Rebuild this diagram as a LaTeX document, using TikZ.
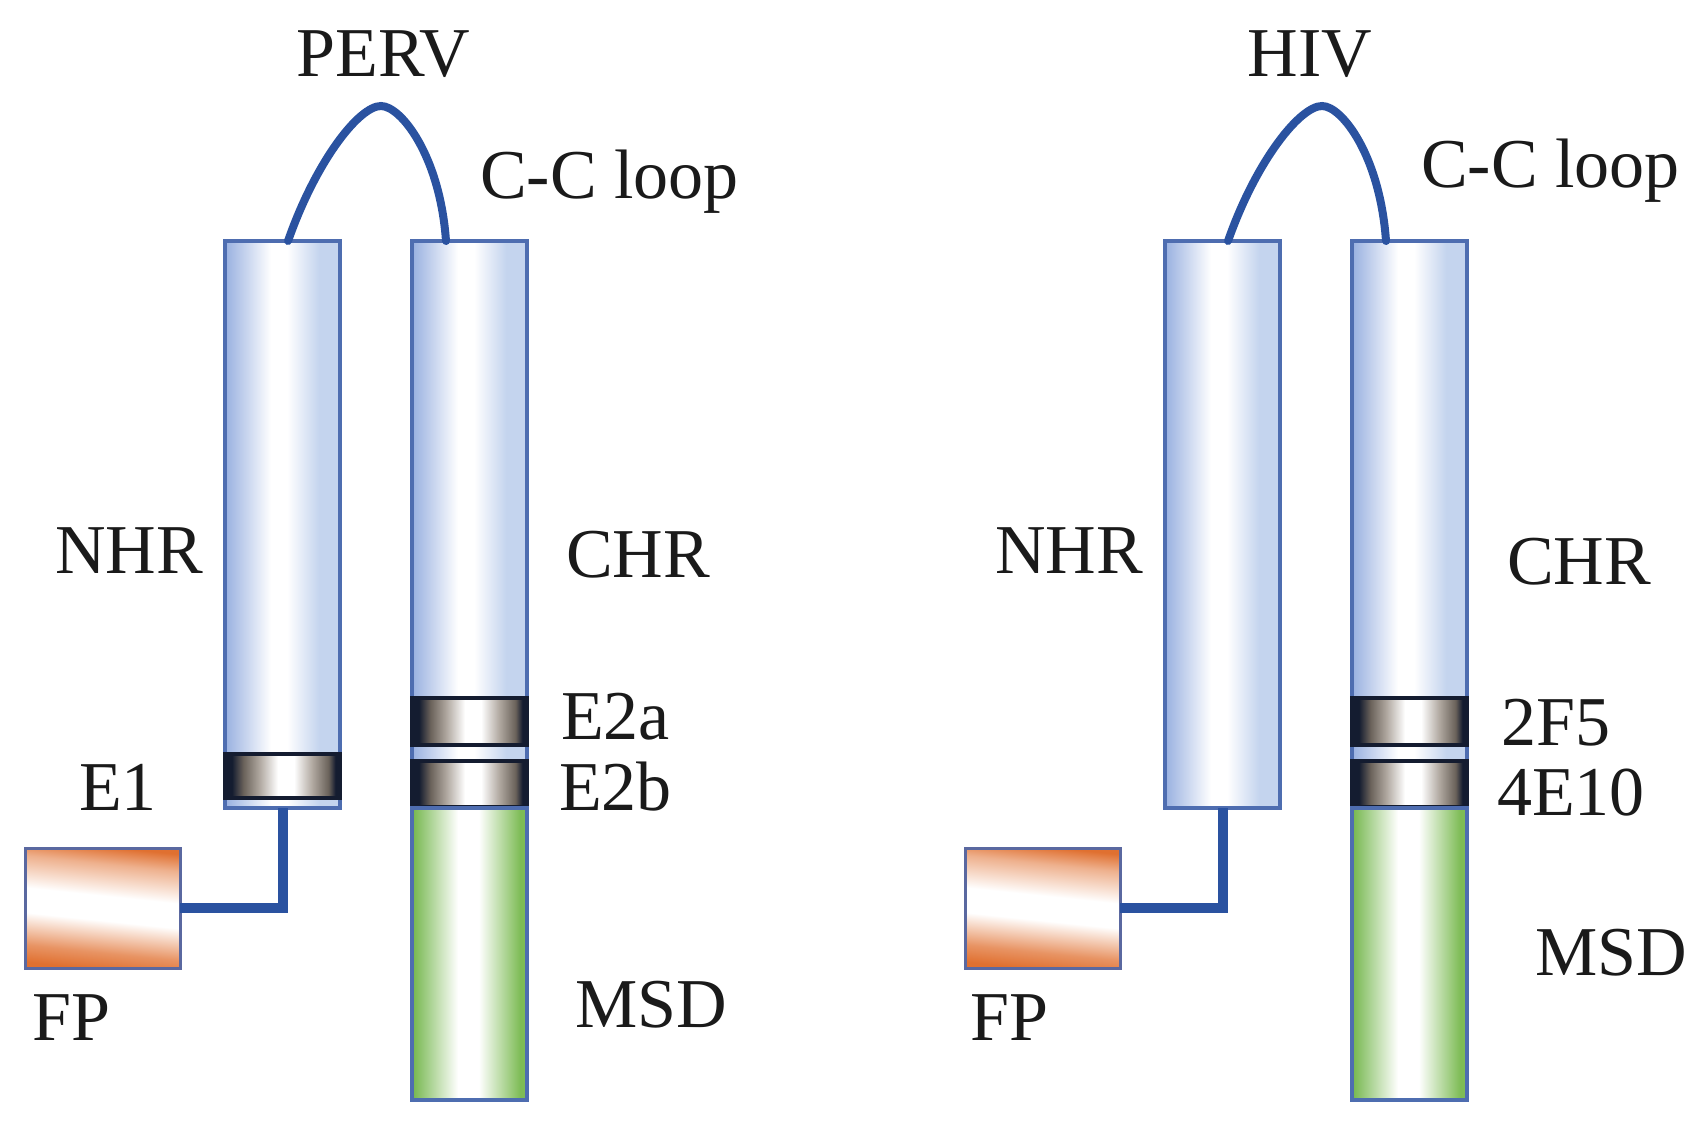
\documentclass[tikz,border=0pt]{standalone}
\usepackage{fontspec}
\setmainfont{Liberation Serif}
\usetikzlibrary{calc}
\definecolor{tubeedge}{HTML}{4E6DB0}
\definecolor{tubeL}{HTML}{98B0E0}
\definecolor{tubeR}{HTML}{C4D4EE}
\definecolor{greenL}{HTML}{74B64C}
\definecolor{greenR}{HTML}{7EBC56}
\definecolor{bandD}{HTML}{141C30}
\definecolor{bandG}{HTML}{6A625A}
\definecolor{bandM}{HTML}{B0A8A0}
\definecolor{fpor}{HTML}{E07030}
\definecolor{fpedge}{HTML}{5A68A0}
\definecolor{linkblue}{HTML}{2A52A0}
\definecolor{txt}{HTML}{1A1A1A}
\pgfdeclarehorizontalshading{tubeshade}{100bp}{color(0bp)=(tubeL); color(25bp)=(tubeL); color(45bp)=(white); color(52bp)=(white); color(66bp)=(tubeR); color(75bp)=(tubeR); color(100bp)=(tubeR)}
\pgfdeclarehorizontalshading{greenshade}{100bp}{color(0bp)=(greenL); color(25bp)=(greenL); color(45bp)=(white); color(54bp)=(white); color(72bp)=(greenR); color(75bp)=(greenR); color(100bp)=(greenR)}
\pgfdeclarehorizontalshading{bandshade}{100bp}{color(0bp)=(bandD); color(25bp)=(bandD); color(28bp)=(bandD); color(33bp)=(bandG); color(40bp)=(bandM); color(48bp)=(white); color(55bp)=(white); color(63bp)=(bandM); color(70bp)=(bandG); color(73bp)=(bandD); color(75bp)=(bandD); color(100bp)=(bandD)}
\pgfdeclareverticalshading{fpshade}{100bp}{color(0bp)=(fpor); color(25bp)=(fpor); color(32bp)=(fpor!75); color(45bp)=(white); color(55bp)=(white); color(68bp)=(fpor!55); color(75bp)=(fpor); color(100bp)=(fpor)}
\begin{document}
\begin{tikzpicture}[x=1pt,y=-1pt,
  tube/.style={draw=tubeedge, line width=3.5pt, shading=tubeshade, anchor=north west, inner sep=0pt, outer sep=0pt, minimum width=115pt},
  msd/.style={draw=tubeedge, line width=3.5pt, shading=greenshade, anchor=north west, inner sep=0pt, outer sep=0pt, minimum width=115pt},
  band/.style={draw=bandD, line width=3.5pt, shading=bandshade, anchor=north west, inner sep=0pt, outer sep=0pt, minimum width=115pt},
  fpbox/.style={draw=fpedge, line width=3pt, shading=fpshade, shading angle=-6, anchor=north west, inner sep=0pt, outer sep=0pt, minimum width=155pt, minimum height=120pt},
  link/.style={draw=linkblue, line width=10pt, line join=miter},
  loopline/.style={draw=linkblue, line width=8pt, line cap=round},
  lab/.style={font=\fontsize{70}{82}\selectfont, text=txt, inner sep=0pt, anchor=base west},
  title/.style={font=\fontsize{70}{82}\selectfont, text=txt, inner sep=0pt, anchor=base}]
\useasboundingbox (0,0) rectangle (1704,1133);
\fill[white] (0,0) rectangle (1704,1133);

% ---------------- PERV ----------------
\node[tube, minimum height=567pt] (nhrP) at (225,241) {};
\node[band, minimum height=44pt] (e1P) at (225,754) {};
\node[tube, minimum height=567pt] (chrP) at (412,241) {};
\node[band, minimum height=47pt] (e2aP) at (412,698) {};
\node[band, minimum height=46pt] (e2bP) at (412,761) {};
\node[msd, minimum height=292pt] (msdP) at (412,808) {};
\node[fpbox] (fpP) at (25,848) {};
\draw[link] (nhrP.south) -- (nhrP.south |- fpP.east) -- (fpP.east);
\coordinate (lsP) at ($(nhrP.north west)+(63,0)$);
\coordinate (pkP) at (381,106);
\coordinate (leP) at ($(chrP.north west)+(34,0)$);
\draw[loopline] (lsP) .. controls +(28,-80) and +(-22,0) .. (pkP) .. controls +(20,0) and +(-6,-85) .. (leP);

\node[title] (tPERV) at (383,76) {PERV};
\node[lab] (ccP) at (480,198) {C-C loop};
\node[lab] (nhrlP) at (55,573) {NHR};
\node[lab] (chrlP) at (566,577) {CHR};
\node[lab] (e2alP) at (561,739) {E2a};
\node[lab] (e2blP) at (559,810) {E2b};
\node[lab] (e1lP) at (79,810) {E1};
\node[lab] (fplP) at (32,1040) {FP};
\node[lab] (msdlP) at (575,1027) {MSD};

% ---------------- HIV ----------------
\node[tube, minimum height=567pt] (nhrH) at (1165,241) {};
\node[tube, minimum height=567pt] (chrH) at (1352,241) {};
\node[band, minimum height=47pt] (b2F5) at (1352,698) {};
\node[band, minimum height=46pt] (b4E10) at (1352,761) {};
\node[msd, minimum height=292pt] (msdH) at (1352,808) {};
\node[fpbox] (fpH) at (965,848) {};
\draw[link] (nhrH.south) -- (nhrH.south |- fpH.east) -- (fpH.east);
\coordinate (lsH) at ($(nhrH.north west)+(63,0)$);
\coordinate (pkH) at (1322,106);
\coordinate (leH) at ($(chrH.north west)+(34,0)$);
\draw[loopline] (lsH) .. controls +(28,-80) and +(-22,0) .. (pkH) .. controls +(20,0) and +(-6,-85) .. (leH);

\node[title] (tHIV) at (1310,76) {HIV};
\node[lab] (ccH) at (1421,187) {C-C loop};
\node[lab] (nhrlH) at (995,573) {NHR};
\node[lab] (chrlH) at (1507,584) {CHR};
\node[lab] (l2F5) at (1501,745) {2F5};
\node[lab] (l4E10) at (1497,815) {4E10};
\node[lab] (fplH) at (970,1040) {FP};
\node[lab] (msdlH) at (1535,975) {MSD};
\end{tikzpicture}
\end{document}
